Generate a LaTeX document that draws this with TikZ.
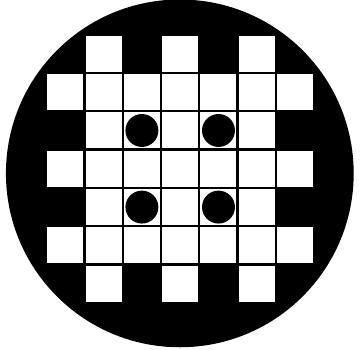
\documentclass[tikz,border=0pt]{standalone}
\usetikzlibrary{positioning}
\begin{document}
\begin{tikzpicture}[
  cell/.style={draw=black, fill=white, line width=1.7pt, minimum size=1cm, inner sep=0pt, anchor=south west},
  hole/.style={circle, fill=black, minimum size=0.86cm, inner sep=0pt}]
\useasboundingbox (-1.175,-1.201) rectangle (8.251,7.937);
% black disc behind the grid
\fill[black] (3.52,3.41) circle (4.54);
% white cells, row by row
\foreach \j in {0,6} \foreach \i in {1,3,5} \node[cell] (c-\i-\j) at (\i,\j) {};
\foreach \j in {1,3,5} \foreach \i in {0,...,6} \node[cell] (c-\i-\j) at (\i,\j) {};
\foreach \j in {2,4} \foreach \i in {1,...,5} \node[cell] (c-\i-\j) at (\i,\j) {};
% four black dots
\foreach \i/\j in {2/2,4/2,2/4,4/4} \node[hole] (h-\i-\j) at (c-\i-\j) {};
\end{tikzpicture}
\end{document}
